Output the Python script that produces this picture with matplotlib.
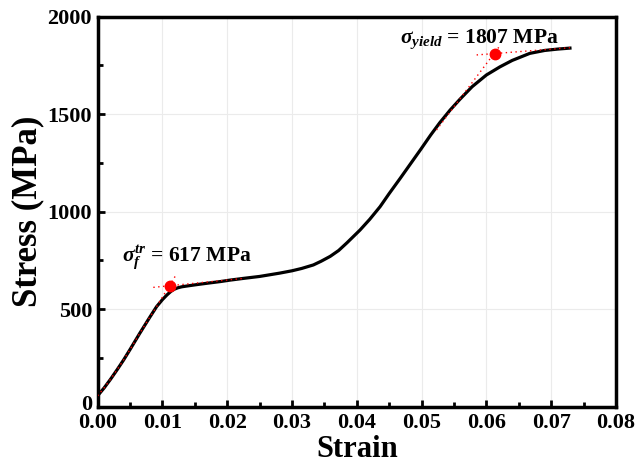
import matplotlib
matplotlib.use("Agg")
import matplotlib.pyplot as plt
import matplotlib.transforms as mtransforms
import numpy as np

strain = [0.0000, 0.0010, 0.0020, 0.0030, 0.0040, 0.0050, 0.0065, 0.0080, 0.0091,
          0.0100, 0.0107, 0.0113, 0.0118, 0.0124, 0.0130, 0.0140, 0.0155, 0.0171,
          0.0190, 0.0204, 0.0225, 0.0250, 0.0281, 0.0300, 0.0315, 0.0333, 0.0345,
          0.0359, 0.0372, 0.0385, 0.0405, 0.0420, 0.0436, 0.0450, 0.0467, 0.0483,
          0.0499, 0.0514, 0.0528, 0.0544, 0.0559, 0.0578, 0.0600, 0.0621, 0.0640,
          0.0667, 0.0690, 0.0710, 0.0729]
stress = [55, 95, 140, 188, 238, 292, 375, 455, 512,
          548, 572, 590, 601, 609, 614, 619, 626, 633,
          641, 648, 657, 667, 684, 696, 708, 726, 745,
          770, 800, 840, 905, 960, 1025, 1092, 1170, 1245,
          1320, 1392, 1455, 1520, 1575, 1640, 1700, 1742, 1775,
          1811, 1826, 1833, 1838]

# dotted red construction lines
fit1_x = [0.0000, 0.0010, 0.0020, 0.0030, 0.0040, 0.0050, 0.0065, 0.0080, 0.0091, 0.0122]
fit1_y = [55, 95, 140, 188, 238, 292, 375, 455, 512, 680]
plat_x = [0.0086, 0.0225]
plat_y = [611, 657]
fit2_x = [0.0523, 0.0622]
fit2_y = [1418, 1855]
top_x = [0.0585, 0.0729]
top_y = [1803, 1840]

mark_x = [0.0112, 0.0613]
mark_y = [617, 1807]

plt.rcParams['font.family'] = ['Liberation Serif', 'DejaVu Serif']
plt.rcParams['font.weight'] = 'bold'
plt.rcParams['mathtext.fontset'] = 'custom'
plt.rcParams['mathtext.it'] = 'Liberation Serif:italic:bold'
plt.rcParams['mathtext.rm'] = 'Liberation Serif:bold'
plt.rcParams['mathtext.bf'] = 'Liberation Serif:bold'

fig = plt.figure(figsize=(6.35, 4.68), dpi=100)
ax = fig.add_axes([0.1537, 0.1314, 0.8163, 0.8333])

dots = (0, (1, 2.5))
ax.plot(strain, stress, color='black', lw=2.3, zorder=3, solid_joinstyle='round')
ax.plot(fit1_x, fit1_y, color='red', lw=1.0, ls=dots, zorder=4)
ax.plot(plat_x, plat_y, color='red', lw=1.0, ls=dots, zorder=4)
ax.plot(fit2_x, fit2_y, color='red', lw=1.0, ls=dots, zorder=4)
ax.plot(top_x, top_y, color='red', lw=1.0, ls=dots, zorder=4)
ax.plot(mark_x, mark_y, 'o', color='red', ms=7.5, zorder=5)

ax.text(0.00377, 741, r'$\sigma_f^{tr}$ = 617 MPa', fontsize=15.5, fontweight='bold', va='baseline')
ax.text(0.0467, 1862, r'$\sigma_{yield}$ = 1807 MPa', fontsize=15.5, fontweight='bold', va='baseline')

ax.set_xlim(0, 0.08)
ax.set_ylim(0, 2000)
xt = np.arange(0, 0.081, 0.01)
ax.set_xticks(xt)
ax.set_xticks(np.arange(0.005, 0.08, 0.01), minor=True)
ax.set_yticks(np.arange(0, 2001, 500))
ax.set_yticks(np.arange(250, 2000, 500), minor=True)
ax.set_xticklabels([f'{v:.2f}' for v in xt])
ax.grid(True, which='major', color='#ebebeb', lw=0.8, zorder=0)

ax.tick_params(which='major', direction='in', length=5, width=2, labelsize=16, pad=4)
ax.tick_params(axis='x', which='major', pad=5)
ax.tick_params(which='minor', direction='in', length=3.5, width=2)
for lab in ax.get_xticklabels() + ax.get_yticklabels():
    lab.set_fontweight('bold')
# nudge the y "0" label up slightly so it does not collide with "0.00"
ylabs = ax.get_yticklabels()
ylabs[0].set_transform(ylabs[0].get_transform() + mtransforms.ScaledTranslation(0, 3/72, fig.dpi_scale_trans))
for s in ax.spines.values():
    s.set_linewidth(2.5)

ax.set_xlabel('Strain', fontsize=22, fontweight='bold', labelpad=1)
ax.set_ylabel('Stress (MPa)', fontsize=25, fontweight='bold', labelpad=2)

fig.savefig('out.png', dpi=100)
